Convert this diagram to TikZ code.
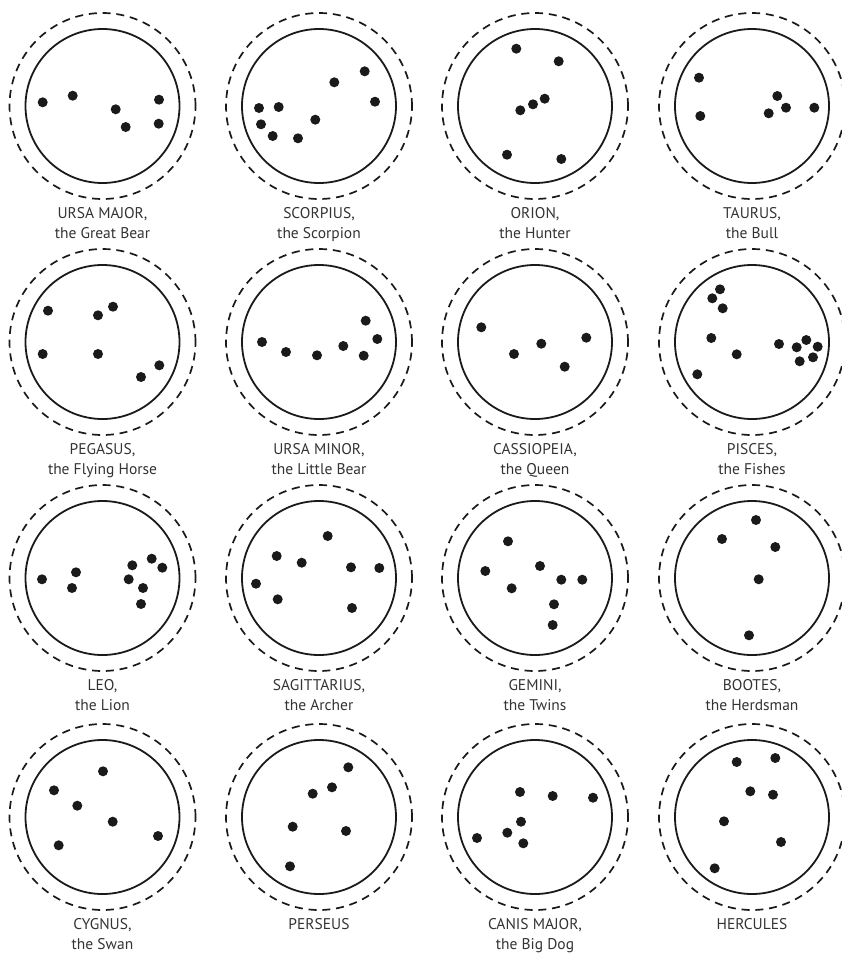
\documentclass[tikz,border=0pt]{standalone}
\usepackage{fontspec}
\setmainfont{PT Sans}
\usepackage{xcolor}
\definecolor{ink}{HTML}{1A1A1A}
\definecolor{caption}{HTML}{333333}
\usetikzlibrary{positioning}

\begin{document}
\begin{tikzpicture}[
  x=1pt,y=-1pt,
  ring/.style={circle,draw=ink,line width=1.8pt,minimum size=154pt,inner sep=0pt},
  halo/.style={circle,draw=ink,line width=1.7pt,dash pattern=on 8pt off 5.8pt,
    minimum size=186pt,inner sep=0pt},
  starname/.style={anchor=north,align=center,inner sep=0pt,text=caption,
    font=\fontsize{15.5}{20.5}\selectfont},
  star/.style={fill=ink}
]
  \useasboundingbox (0,0) rectangle (842,954);

  % circles and names, row by row
  \foreach \cx/\cy/\nm/\txt in {
      102.5/106/uma/{URSA MAJOR,\\the Great Bear},
      319/106/sco/{SCORPIUS,\\the Scorpion},
      535/106/ori/{ORION,\\the Hunter},
      752/106/tau/{TAURUS,\\the Bull},
      102.5/342/peg/{PEGASUS,\\the Flying Horse},
      319/342/umi/{URSA MINOR,\\the Little Bear},
      535/342/cas/{CASSIOPEIA,\\the Queen},
      752/342/psc/{PISCES,\\the Fishes},
      102.5/578/leo/{LEO,\\the Lion},
      319/578/sgr/{SAGITTARIUS,\\the Archer},
      535/578/gem/{GEMINI,\\the Twins},
      752/578/boo/{BOOTES,\\the Herdsman},
      102.5/817/cyg/{CYGNUS,\\the Swan},
      319/817/per/{PERSEUS},
      535/817/cma/{CANIS MAJOR,\\the Big Dog},
      752/817/her/{HERCULES}} {
    \node[ring] (\nm) at (\cx,\cy) {};
    \node[halo] (\nm-halo) at (\nm) {};
    \node[starname] (\nm-name) at (\cx,\cy+101) {\txt};
  }

  % stars
  \foreach \p in {(42.7,102.3),(72.7,95.7),(115.7,109.3),(125.7,127),(159,99.7),(158.7,123.7)}
    \fill[star] \p circle[radius=5pt];
  \foreach \p in {(334.3,82.3),(364.7,71.3),(375,101.7),(259,108),(278.7,107),(261,124.3),(315.3,119.7),(272.7,136),(298,138.3)}
    \fill[star] \p circle[radius=5pt];
  \foreach \p in {(516.3,48.7),(558.7,61.3),(520.3,110.3),(533,104.3),(544.7,98.7),(507,154.7),(561.3,159)}
    \fill[star] \p circle[radius=5pt];
  \foreach \p in {(699,77.7),(700.3,116),(777.3,96),(786,107.7),(768.7,113.3),(814.3,107.7)}
    \fill[star] \p circle[radius=5pt];

  \foreach \p in {(48,310.7),(98,315.3),(113,306.7),(42.7,354),(98,354),(159.3,365.3),(141,377)}
    \fill[star] \p circle[radius=5pt];
  \foreach \p in {(262,342),(286,352),(317,355.3),(343.3,346),(365.7,320.7),(377.3,339),(363.7,355.7)}
    \fill[star] \p circle[radius=5pt];
  \foreach \p in {(481.3,327.3),(514,354),(541.3,343.7),(564.7,366.7),(586.3,337.7)}
    \fill[star] \p circle[radius=5pt];
  \foreach \p in {(720,289.3),(712.3,298.3),(722.7,308.3),(711.3,338),(736.7,354.3),(697.3,374.3),
                  (779,344),(806.3,340),(796.7,347.3),(817.7,346.7),(799.7,361.3),(813,357.3)}
    \fill[star] \p circle[radius=5pt];

  \foreach \p in {(42,579.3),(76,572.3),(72,588),(132.3,565.3),(151.7,558.7),(162.3,567.7),(128.7,579.3),(143,588),(141,604)}
    \fill[star] \p circle[radius=5pt];
  \foreach \p in {(327.7,536),(276.7,556),(301.7,562.7),(351,567.3),(379.3,568),(256,583.7),(277.7,599.3),(352,608)}
    \fill[star] \p circle[radius=5pt];
  \foreach \p in {(508,541.3),(485.3,571),(540,566),(511.7,588.3),(561.3,579.7),(582.3,579.7),(554,604.3),(552.7,625)}
    \fill[star] \p circle[radius=5pt];
  \foreach \p in {(756,520),(722,539),(775.3,547),(758.7,579.3),(749,635.3)}
    \fill[star] \p circle[radius=5pt];

  \foreach \p in {(103,771.3),(54,790.3),(77.3,805.7),(112.7,821.7),(158,836),(58.7,845.3)}
    \fill[star] \p circle[radius=5pt];
  \foreach \p in {(348.3,767.3),(332,787.3),(312.7,793.7),(292.7,826.7),(346,831),(290,866.3)}
    \fill[star] \p circle[radius=5pt];
  \foreach \p in {(520,792),(552.7,796),(593,797.7),(521,821.7),(507.3,832.7),(477,838),(523.3,843.3)}
    \fill[star] \p circle[radius=5pt];
  \foreach \p in {(736.7,762),(775.3,758),(750.3,791.3),(773,794.7),(724,821.3),(781,842),(714.7,868.3)}
    \fill[star] \p circle[radius=5pt];
\end{tikzpicture}
\end{document}
